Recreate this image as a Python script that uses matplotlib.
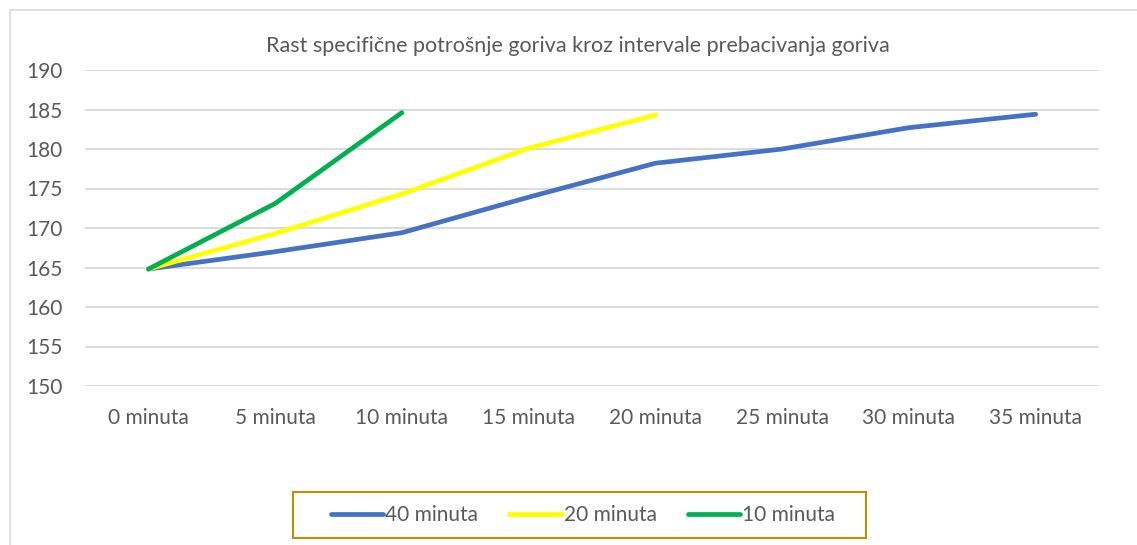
import matplotlib
matplotlib.use("Agg")
import matplotlib.pyplot as plt
from matplotlib.patches import Rectangle

categories = ["0 minuta", "5 minuta", "10 minuta", "15 minuta", "20 minuta",
              "25 minuta", "30 minuta", "35 minuta"]
series_40 = [164.8, 167.0, 169.4, 173.9, 178.2, 180.0, 182.7, 184.4]
series_20 = [164.8, 169.3, 174.3, 180.1, 184.3]
series_10 = [164.8, 173.1, 184.6]
series_names = ["40 minuta", "20 minuta", "10 minuta"]
yticks = [150, 155, 160, 165, 170, 175, 180, 185, 190]
title = "Rast specifične potrošnje goriva kroz intervale prebacivanja goriva"

plt.rcParams['font.family'] = ['Lato', 'DejaVu Sans']
txt_color = "#595959"
W, H = 1137, 545

fig = plt.figure(figsize=(11.37, 5.45), dpi=100)
fig.patches.append(Rectangle((10/W, -0.05), 1.1, 1 - 10/H + 0.05,
                             transform=fig.transFigure, fill=False,
                             edgecolor="#D9D9D9", linewidth=1.2))
# legend frame
fig.patches.append(Rectangle((293/W, 1 - 538/H), (866 - 293)/W, (538 - 492)/H,
                             transform=fig.transFigure, fill=False,
                             edgecolor="#BF9000", linewidth=1.5))
ax = fig.add_axes([85/W, 1 - 386/H, (1099 - 85)/W, (386 - 70)/H])

lw = 3.4
ax.plot(range(len(series_40)), series_40, color="#4472C4", lw=lw,
        solid_capstyle="round", solid_joinstyle="round", label=series_names[0], zorder=3)
ax.plot(range(len(series_20)), series_20, color="#FFFF00", lw=lw,
        solid_capstyle="round", solid_joinstyle="round", label=series_names[1], zorder=4)
ax.plot(range(len(series_10)), series_10, color="#00B050", lw=lw,
        solid_capstyle="round", solid_joinstyle="round", label=series_names[2], zorder=5)

ax.set_xlim(-0.5, len(categories) - 0.5)
ax.set_ylim(150, 190)
ax.set_yticks(yticks)
ax.set_xticks(range(len(categories)))
ax.set_xticklabels(categories)
ax.yaxis.grid(True, color="#D9D9D9", linewidth=1.3)
ax.set_axisbelow(True)
for s in ax.spines.values():
    s.set_visible(False)
ax.tick_params(axis="both", length=0, labelsize=15, colors=txt_color)
ax.tick_params(axis="x", pad=16)
ax.tick_params(axis="y", pad=16)

fig.text(578/W, 1 - 46/H, title, ha="center", va="center",
         fontsize=15.5, color=txt_color)

leg = fig.legend(loc="center", bbox_to_anchor=(583/W, 1 - 515/H),
                 ncol=3, fontsize=15, frameon=False,
                 handlelength=2.5, handletextpad=0.1, columnspacing=1.5,
                 borderpad=0.0, borderaxespad=0, labelcolor=txt_color)

fig.savefig("out.png", dpi=100, facecolor="white")
